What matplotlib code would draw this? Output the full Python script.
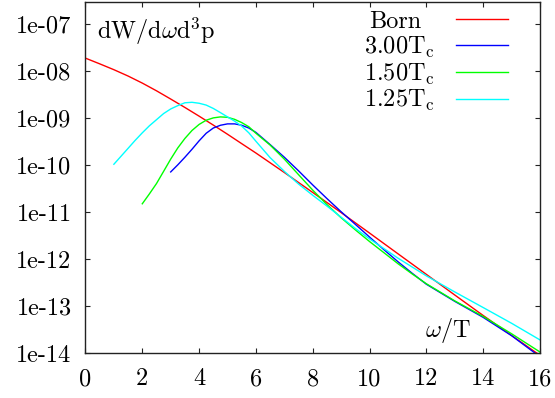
import matplotlib
matplotlib.use("Agg")
import matplotlib.pyplot as plt
from matplotlib.ticker import LogLocator, NullFormatter

plt.rcParams["font.family"] = "cmr10"
plt.rcParams["mathtext.fontset"] = "cm"
plt.rcParams["axes.unicode_minus"] = False

# photon rate vs omega/T
omega_born = [0, 0.5, 1, 1.5, 2, 2.5, 3, 3.5, 4, 4.5, 5, 5.5, 6, 7, 8, 9, 10, 11, 12, 13, 14, 15, 16]
rate_born = [1.91e-8, 1.445e-8, 1.084e-8, 7.94e-9, 5.62e-9, 3.85e-9, 2.57e-9, 1.70e-9, 1.11e-9,
             7.16e-10, 4.57e-10, 2.88e-10, 1.82e-10, 7.0e-11, 2.63e-11, 9.8e-12, 3.59e-12,
             1.30e-12, 4.73e-13, 1.72e-13, 6.3e-14, 2.37e-14, 8.9e-15]

omega_300 = [3.0, 3.25, 3.5, 3.75, 4.0, 4.25, 4.5, 4.75, 5.0, 5.25, 5.5, 5.75, 6.0, 6.5, 7.0,
             7.5, 8.0, 8.5, 9.0, 9.5, 10, 10.5, 11, 11.5, 12, 13, 14, 15, 16]
rate_300 = [7.2e-11, 1.02e-10, 1.48e-10, 2.19e-10, 3.31e-10, 4.8e-10, 6.2e-10, 7.1e-10, 7.6e-10,
            7.6e-10, 7.1e-10, 6.2e-10, 5.0e-10, 2.75e-10, 1.48e-10, 7.6e-11, 3.8e-11, 1.95e-11,
            1.02e-11, 5.5e-12, 2.95e-12, 1.60e-12, 8.8e-13, 5.0e-13, 2.92e-13, 1.26e-13,
            5.75e-14, 2.34e-14, 8.3e-15]

omega_150 = [2.0, 2.25, 2.5, 2.75, 3.0, 3.25, 3.5, 3.75, 4.0, 4.25, 4.5, 4.75, 5.0, 5.25, 5.5,
             5.75, 6.0, 6.5, 7.0, 7.5, 8.0, 8.5, 9.0, 9.5, 10, 10.5, 11, 11.5, 12, 13, 14, 15, 16]
rate_150 = [1.51e-11, 2.45e-11, 4.07e-11, 7.4e-11, 1.35e-10, 2.34e-10, 3.72e-10, 5.5e-10, 7.4e-10,
            9.1e-10, 1.02e-9, 1.07e-9, 1.05e-9, 9.5e-10, 8.1e-10, 6.6e-10, 4.8e-10, 2.69e-10,
            1.35e-10, 6.3e-11, 2.95e-11, 1.45e-11, 7.6e-12, 4.2e-12, 2.37e-12, 1.38e-12, 8.0e-13,
            4.84e-13, 2.99e-13, 1.29e-13, 6.0e-14, 2.57e-14, 1.05e-14]

omega_125 = [1.0, 1.25, 1.5, 1.75, 2.0, 2.25, 2.5, 2.75, 3.0, 3.25, 3.5, 3.75, 4.0, 4.25, 4.5,
             4.75, 5.0, 5.25, 5.5, 5.75, 6.0, 6.5, 7.0, 7.5, 8.0, 8.5, 9.0, 9.5, 10, 11, 12, 13,
             14, 15, 16]
rate_125 = [1.05e-10, 1.55e-10, 2.29e-10, 3.39e-10, 4.9e-10, 6.92e-10, 9.33e-10, 1.26e-9, 1.58e-9,
            1.86e-9, 2.14e-9, 2.19e-9, 2.09e-9, 1.91e-9, 1.62e-9, 1.32e-9, 1.07e-9, 8.7e-10,
            6.8e-10, 4.9e-10, 3.24e-10, 1.45e-10, 7.4e-11, 3.98e-11, 2.29e-11, 1.35e-11, 7.8e-12,
            4.5e-12, 2.7e-12, 1.05e-12, 4.4e-13, 2.0e-13, 9.3e-14, 4.3e-14, 1.9e-14]

xticks = [0, 2, 4, 6, 8, 10, 12, 14, 16]
ytick_exp = [-14, -13, -12, -11, -10, -9, -8, -7]

fig = plt.figure(figsize=(5.55, 3.98), dpi=100)
ax = fig.add_axes([0.154, 0.113, 0.819, 0.882])

lw = 1.0
ax.plot(omega_born, rate_born, color="#ff0000", lw=lw, label="Born")
ax.plot(omega_300, rate_300, color="#0000ff", lw=lw, label=r"$3.00\mathrm{T}_\mathrm{c}$")
ax.plot(omega_150, rate_150, color="#00ff00", lw=lw, label=r"$1.50\mathrm{T}_\mathrm{c}$")
ax.plot(omega_125, rate_125, color="#00ffff", lw=lw, label=r"$1.25\mathrm{T}_\mathrm{c}$")

ax.set_yscale("log")
ax.set_xlim(0, 16)
ax.set_ylim(1e-14, 3e-7)
ax.set_xticks(xticks, [str(t) for t in xticks])
ax.set_yticks([10.0 ** e for e in ytick_exp], ["1e%03d" % e for e in ytick_exp])
ax.yaxis.set_minor_locator(LogLocator(base=10, subs=(2, 5)))
ax.yaxis.set_minor_formatter(NullFormatter())
ax.xaxis.set_minor_locator(plt.NullLocator())

ax.tick_params(which="both", direction="in", top=True, right=True, labelsize=17.5,
               color="#222222", width=0.8)
ax.tick_params(which="major", length=3.8)
ax.tick_params(which="minor", length=1.8)
ax.tick_params(axis="y", pad=10)
ax.tick_params(axis="x", pad=11)
for sp in ax.spines.values():
    sp.set_color("#222222")
    sp.set_linewidth(1.0)

ax.text(0.025, 0.895, r"$\mathrm{dW/d}\omega\mathrm{d}^3\mathrm{p}$", transform=ax.transAxes,
        fontsize=17.5, ha="left", va="baseline")
ax.text(0.748, 0.046, r"$\omega/\mathrm{T}$", transform=ax.transAxes,
        fontsize=17.5, ha="left", va="baseline")

leg = ax.legend(loc="upper right", bbox_to_anchor=(0.93, 0.975), frameon=False, fontsize=17.5,
                markerfirst=False, handlelength=2.15, handletextpad=0.85, labelspacing=0.07,
                borderpad=0.0, borderaxespad=0.0)
# right edge of "Born" lines up with the T, not the subscript
leg.get_texts()[0].set_x(-14)

fig.savefig("out.png", dpi=100)
